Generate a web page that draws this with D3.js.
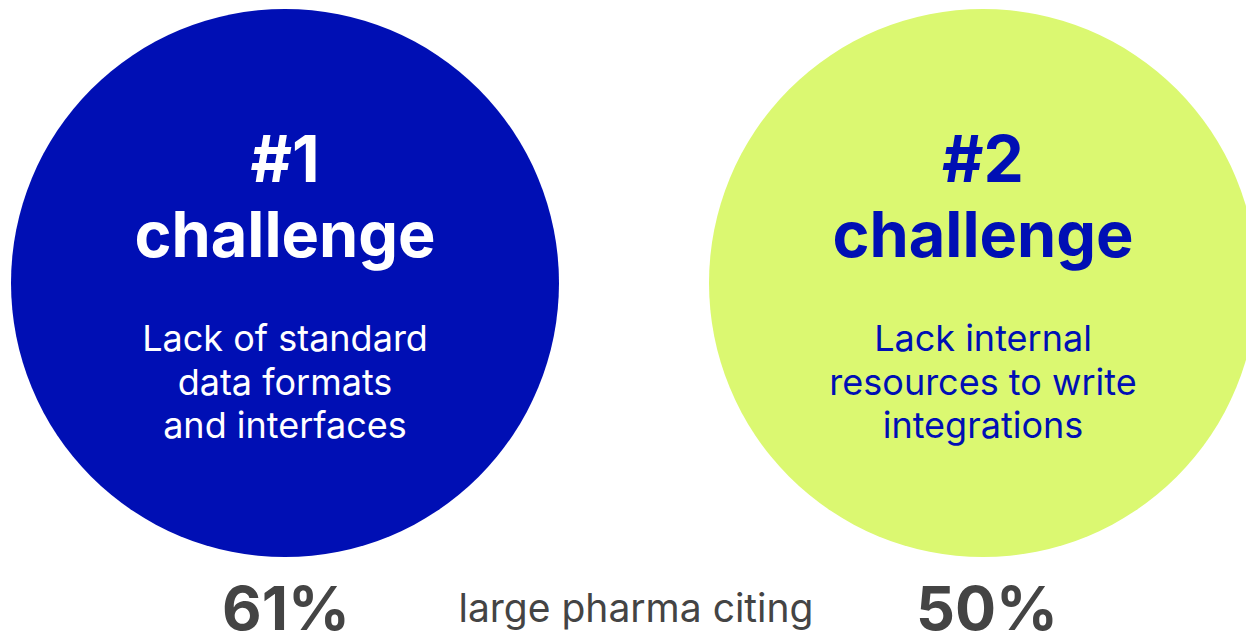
<!DOCTYPE html>
<html><head><meta charset="utf-8">
<script src="https://cdn.jsdelivr.net/npm/d3@7"></script>
<style>html,body{margin:0;padding:0;background:#fff;overflow:hidden}</style>
</head><body>
<svg id="chart" width="1246" height="633"></svg>
<script>
const ranks = ["#1", "#2"];
const headline = ["challenge", "challenge"];
const descriptions = [
  ["Lack of standard", "data formats", "and interfaces"],
  ["Lack internal", "resources to write", "integrations"]
];
const percents = [61, 50];
const middleLabel = "large pharma citing";

const fills = ["#000FB4", "#DBF871"];
const textColors = ["#FFFFFF", "#000FB4"];
const FONT = "Inter, 'DejaVu Sans', sans-serif";

const svg = d3.select("#chart");
const x = d3.scalePoint().domain(ranks).range([285, 983]);
const cy = 283, r = 274;

const g = svg.selectAll("g.item").data(ranks).join("g")
  .attr("class", "item")
  .attr("transform", d => `translate(${x(d)},0)`);

g.append("circle").attr("cx", 0).attr("cy", cy).attr("r", r)
  .attr("fill", (d, i) => fills[i]);

g.append("text").attr("x", 0).attr("y", 182)
  .attr("text-anchor", "middle").attr("font-family", FONT)
  .attr("font-weight", 700).attr("font-size", 64)
  .attr("fill", (d, i) => textColors[i]).text(d => d);

g.append("text").attr("x", 0).attr("y", 257)
  .attr("text-anchor", "middle").attr("font-family", FONT)
  .attr("font-weight", 700).attr("font-size", 63)
  .attr("fill", (d, i) => textColors[i]).text((d, i) => headline[i]);

g.each(function(d, i) {
  d3.select(this).selectAll("text.desc").data(descriptions[i]).join("text")
    .attr("class", "desc")
    .attr("x", 0).attr("y", (t, j) => 351 + j * 43.5)
    .attr("text-anchor", "middle").attr("font-family", FONT)
    .attr("font-weight", 400).attr("font-size", 36)
    .attr("fill", textColors[i]).text(t => t);
});

svg.selectAll("text.pct").data(percents).join("text")
  .attr("class", "pct")
  .attr("x", (d, i) => x(ranks[i]) + (i === 1 ? 4 : 1)).attr("y", 630)
  .attr("text-anchor", "middle").attr("font-family", FONT)
  .attr("font-weight", 700).attr("font-size", 61)
  .attr("fill", "#444444").text(d => d + "%");

svg.append("text").attr("x", 636).attr("y", 622)
  .attr("text-anchor", "middle").attr("font-family", FONT)
  .attr("font-weight", 400).attr("font-size", 39)
  .attr("fill", "#444444").text(middleLabel);
</script>
</body></html>
